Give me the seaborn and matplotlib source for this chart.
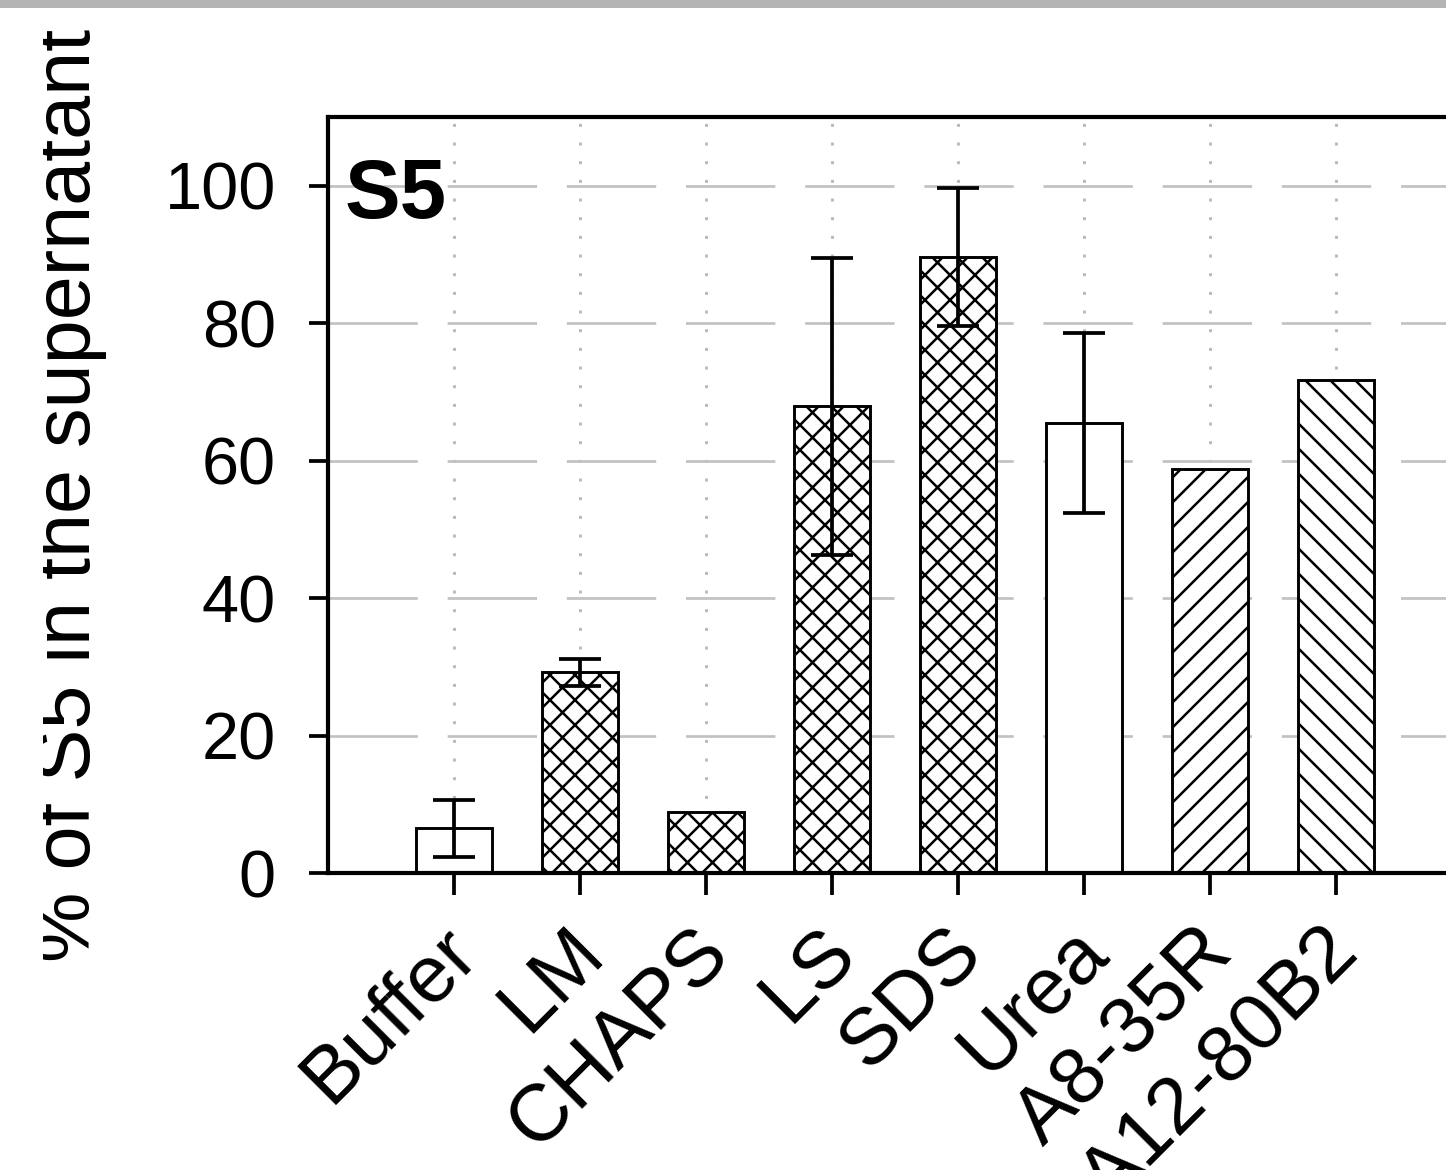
import numpy as np
import pandas as pd
import matplotlib
matplotlib.use("Agg")
import matplotlib.pyplot as plt
import matplotlib.transforms as mtransforms
from matplotlib.patches import Rectangle
import seaborn as sns

# Solubilisation of S5 by each treatment
categories = ["Buffer", "LM", "CHAPS", "LS", "SDS", "Urea", "A8-35R", "A12-80B2"]
percent_supernatant = [6.5, 29.2, 8.9, 67.9, 89.6, 65.5, 58.8, 71.8]
sd = [4.1, 2.0, np.nan, 21.6, 10.0, 13.1, np.nan, np.nan]
hatches = ["", "xx", "xx", "xx", "xx", "", "//", "\\\\"]
yticks = [0, 20, 40, 60, 80, 100]

sns.set_style("ticks")
plt.rcParams["font.family"] = ["Liberation Sans", "DejaVu Sans"]
plt.rcParams["text.color"] = "black"
plt.rcParams["axes.labelcolor"] = "black"
plt.rcParams["hatch.color"] = "black"
plt.rcParams["hatch.linewidth"] = 1.2

DPI = 150
W, H = 1446, 1170
fig = plt.figure(figsize=(W / DPI, H / DPI), dpi=DPI)
fig.patch.set_facecolor("white")

# axes box in pixels (left, bottom, width, height); right spine lies past the edge
ax = fig.add_axes([328 / W, (H - 873) / H, 1134 / W, 756 / H])

df = pd.DataFrame({"treatment": categories, "pct": percent_supernatant})
sns.barplot(data=df, x="treatment", y="pct", color="white", saturation=1,
            edgecolor="black", linewidth=1.4, width=0.6, errorbar=None, ax=ax)

for bar, h in zip(ax.patches, hatches):
    bar.set_hatch(h)
    bar.set_facecolor("white")
    bar.set_edgecolor("black")

xpos = np.arange(len(categories))
ax.errorbar(xpos, percent_supernatant, yerr=sd, fmt="none", ecolor="black",
            elinewidth=1.8, capsize=10, capthick=1.8, zorder=5)

ax.set_xlim(-1, len(categories))
ax.set_ylim(0, 110)
ax.set_yticks(yticks)
ax.set_xlabel("")
ax.set_ylabel("% of S5 in the supernatant", fontsize=38, color="black")
ax.yaxis.set_label_coords((107 - 328) / 1134, 0.5)

ax.set_axisbelow(True)
ax.yaxis.grid(True, color="#c2c2c2", linewidth=1.3, linestyle=(0, (33, 11)))
ax.xaxis.grid(True, color="#b8b8b8", linewidth=1.4, linestyle=(0, (1, 5.4)))

for side in ["left", "bottom", "top", "right"]:
    ax.spines[side].set_linewidth(2)
    ax.spines[side].set_color("black")

ax.tick_params(axis="y", direction="out", length=9, width=1.8, pad=16,
               labelsize=32, colors="black")
ax.tick_params(axis="x", direction="out", length=10.5, width=1.8, pad=9,
               labelsize=38.5, colors="black")

ax.set_xticks(xpos)
ax.set_xticklabels(categories, rotation=45, ha="right")
shift = mtransforms.ScaledTranslation(38 / DPI, 0, fig.dpi_scale_trans)
for lbl in ax.get_xticklabels():
    lbl.set_transform(lbl.get_transform() + shift)

ax.text(-0.865, 95.3, "S5", fontsize=40, fontweight="bold", ha="left",
        va="baseline", color="black", zorder=6)

# panel trimmed on the left edge and bordered by a grey strip on top
fig.patches.append(Rectangle((0, 0), 43 / W, 1, transform=fig.transFigure,
                             facecolor="white", edgecolor="none", zorder=9))
fig.patches.append(Rectangle((0, 1 - 8 / H), 1, 8 / H, transform=fig.transFigure,
                             facecolor="#b4b4b4", edgecolor="none", zorder=10))

fig.savefig("out.png", dpi=DPI)
